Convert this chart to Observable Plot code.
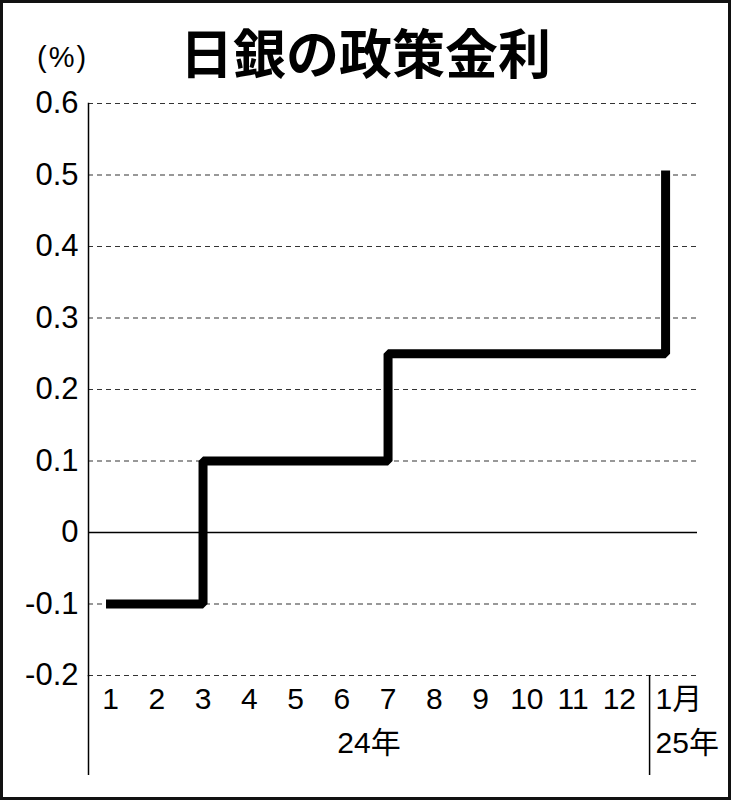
<!DOCTYPE html>
<html><head><meta charset="utf-8">
<script src="https://cdn.jsdelivr.net/npm/d3@7"></script>
<script src="https://cdn.jsdelivr.net/npm/@observablehq/plot@0.6"></script>
<style>
body{margin:0;background:#fff;}
#wrap{position:relative;width:731px;height:800px;overflow:hidden;background:#fff;}
#chart svg{position:absolute;left:0;top:0;}
#border{position:absolute;left:0;top:0;width:731px;height:800px;box-sizing:border-box;border:3px solid #111;pointer-events:none;}
#title{position:absolute;left:0;width:731px;top:20px;text-align:center;font-family:"Noto Sans CJK JP";font-weight:700;font-size:53px;line-height:62px;color:#000;}
#unit{position:absolute;left:37px;top:40px;font-family:"Liberation Sans",Arial,sans-serif;font-size:29px;line-height:34px;letter-spacing:2px;color:#000;}
</style>
</head><body>
<div id="wrap">
  <div id="chart"></div>
  <div id="title">日銀の政策金利</div>
  <div id="unit">(%)</div>
  <div id="border"></div>
</div>
<script>
// Data
const monthLabels = ["1","2","3","4","5","6","7","8","9","10","11","12","1月"];
const changeMonth = [1, 3, 7, 13];          // month index (13 = Jan 2025)
const policyRate = [-0.1, 0.1, 0.25, 0.5];  // %
const yTicks = [-0.2, -0.1, 0, 0.1, 0.2, 0.3, 0.4, 0.5, 0.6];
const yearLabels = ["24年", "25年"];

const steps = changeMonth.map((m, i) => ({m, r: policyRate[i]}));
const xDomain = [0.524, 13.69];
const yearDivider = 12.654;

const font = "'Liberation Sans', Arial, 'Noto Sans CJK JP', sans-serif";

const chart = Plot.plot({
  width: 731,
  height: 800,
  marginLeft: 88,
  marginRight: 34,
  marginTop: 103,
  marginBottom: 125,
  style: {fontFamily: font, color: "#000", background: "transparent", overflow: "visible"},
  x: {type: "linear", domain: xDomain, label: null},
  y: {domain: [-0.2, 0.6], label: null},
  marks: [
    Plot.ruleY(yTicks.filter(d => d !== 0), {stroke: "#333", strokeWidth: 1.2, strokeDasharray: "5,4"}),
    Plot.ruleY([0], {stroke: "#000", strokeWidth: 1.5}),
    Plot.frame({anchor: "left", stroke: "#000", strokeWidth: 1.5}),
    Plot.axisX({ticks: [xDomain[0], yearDivider], tickSize: 100, tickFormat: () => "", label: null, stroke: "#000", strokeWidth: 1.5}),
    Plot.line(steps, {x: "m", y: "r", curve: "step-after", stroke: "#000", strokeWidth: 9, strokeLinejoin: "miter", strokeLinecap: "square"}),
    Plot.axisY({ticks: yTicks, tickSize: 0, tickPadding: 10, fontSize: 31, fill: "#000", label: null, tickFormat: d => d === 0 ? "0" : d.toFixed(1)}),
    Plot.text(monthLabels.slice(0, 12), {x: (d, i) => i + 1, text: d => d, frameAnchor: "bottom", dy: 33, fontSize: 30, fill: "#000"}),
    Plot.text(monthLabels.slice(12), {x: () => 13, text: d => d, frameAnchor: "bottom", dy: 33, dx: -10, textAnchor: "start", fontSize: 30, fill: "#000"}),
    Plot.text(yearLabels.slice(0, 1), {x: () => (xDomain[0] + yearDivider) / 2, text: d => d, frameAnchor: "bottom", dy: 77, fontSize: 30, fill: "#000"}),
    Plot.text(yearLabels.slice(1), {x: () => 13, text: d => d, frameAnchor: "bottom", dy: 77, dx: -10, textAnchor: "start", fontSize: 30, fill: "#000"})
  ]
});
document.getElementById("chart").appendChild(chart);
</script>
</body></html>
